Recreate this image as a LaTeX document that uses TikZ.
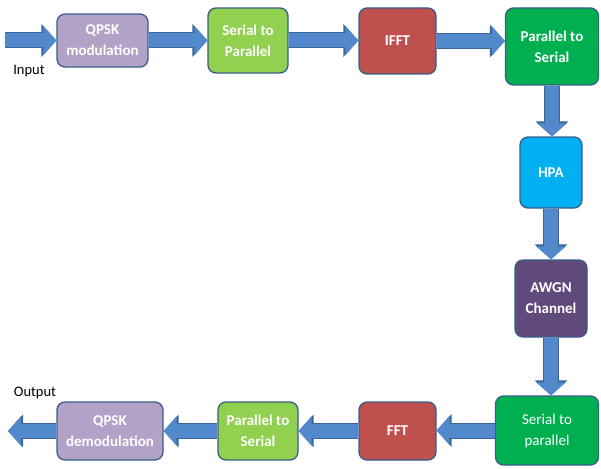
\documentclass[tikz,border=0pt]{standalone}
\usepackage{fontspec}
\setmainfont{Carlito}
\usetikzlibrary{arrows.meta}
\definecolor{outl}{HTML}{385D8A}
\definecolor{arrfill}{HTML}{5289CC}
\definecolor{arrline}{HTML}{3B6596}
\definecolor{lav}{HTML}{B3A2C7}
\definecolor{lgreen}{HTML}{92D050}
\definecolor{dred}{HTML}{C0504D}
\definecolor{dgreen}{HTML}{00B050}
\definecolor{skyb}{HTML}{00B0F0}
\definecolor{purp}{HTML}{604A7B}
\tikzset{
  blk/.style={draw=outl, line width=1.3pt, rounded corners=8pt, inner sep=0pt,
    align=center, text=white, font=\fontsize{15}{21}\selectfont\bfseries},
  flow/.style={line width=14pt, draw=arrfill,
    -{Triangle[width=29pt,length=13pt]},
    preaction={draw=arrline, line width=16pt, -{Triangle[width=32pt,length=15pt]}}},
  lbl/.style={font=\fontsize{14.5}{16}\selectfont, text=black, inner sep=0pt}
}
\begin{document}
\begin{tikzpicture}[x=1pt,y=-1pt]
\useasboundingbox (0,0) rectangle (601,468);
% top row
\node[blk, fill=lav, minimum width=91pt, minimum height=53pt] (qpsk) at (102.5,40.5) {QPSK\\modulation};
\node[blk, fill=lgreen, minimum width=80pt, minimum height=65pt] (s2p) at (248,40.5) {Serial to\\Parallel};
\node[blk, fill=dred, minimum width=77pt, minimum height=66pt] (ifft) at (397.5,41) {IFFT};
\node[blk, fill=dgreen, minimum width=93pt, minimum height=77pt] (p2s) at (552,46.5) {Parallel to\\Serial};
% right column
\node[blk, fill=skyb, minimum width=62pt, minimum height=71pt] (hpa) at (551,172.5) {HPA};
\node[blk, fill=purp, minimum width=72pt, minimum height=77pt] (awgn) at (551,298.5) {AWGN\\Channel};
% bottom row
\node[blk, fill=dgreen, minimum width=103pt, minimum height=69pt, font=\fontsize{15}{21}\selectfont] (s2pb) at (547,430.5) {Serial to\\parallel};
\node[blk, fill=dred, minimum width=77pt, minimum height=58pt] (fft) at (397.5,431) {FFT};
\node[blk, fill=lgreen, minimum width=80pt, minimum height=58pt] (p2sb) at (258,431) {Parallel to\\Serial};
\node[blk, fill=lav, minimum width=106pt, minimum height=58pt] (qdem) at (110,431) {QPSK\\demodulation};
% labels
\node[lbl] (inlbl) at (29,71) {Input};
\node[lbl] (outlbl) at (35,393) {Output};
% free ends
\coordinate (inpt) at (5,40.5);
\coordinate (outpt) at (8,431);
% connectors
\draw[flow] (inpt) -- (qpsk.west);
\draw[flow] (qpsk.east) -- (qpsk.east -| s2p.west);
\draw[flow] (s2p.east) -- (s2p.east -| ifft.west);
\draw[flow] (ifft.east) -- (ifft.east -| p2s.west);
\draw[flow] (p2s.south) -- (p2s.south |- hpa.north);
\draw[flow] (hpa.south) -- (hpa.south |- awgn.north);
\draw[flow] (awgn.south) -- (awgn.south |- s2pb.north);
\draw[flow] (s2pb.west) -- (s2pb.west -| fft.east);
\draw[flow] (fft.west) -- (fft.west -| p2sb.east);
\draw[flow] (p2sb.west) -- (p2sb.west -| qdem.east);
\draw[flow] (qdem.west) -- (outpt);
\end{tikzpicture}
\end{document}
